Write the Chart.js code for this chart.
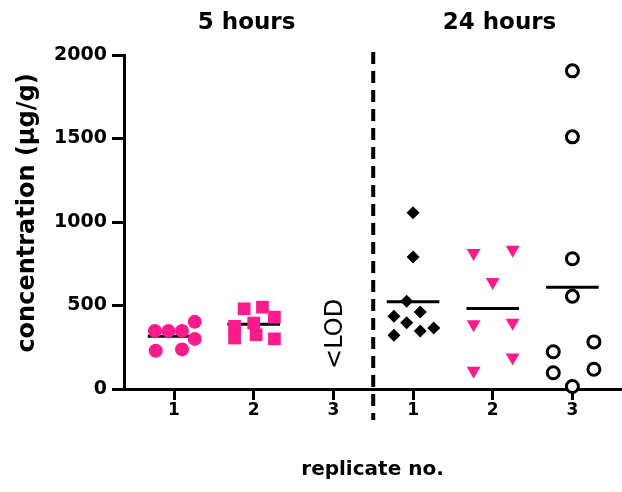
<!DOCTYPE html>
<html>
<head>
<meta charset="utf-8">
<script src="https://cdn.jsdelivr.net/npm/chart.js@4.4.1/dist/chart.umd.min.js"></script>
<style>
  html, body { margin: 0; padding: 0; background: #fff; }
  #wrap { width: 622px; height: 492px; position: relative; }
</style>
</head>
<body>
<div id="wrap"><canvas id="c" width="622" height="492"></canvas></div>
<script>
// ---------------- data ----------------
const tickPositions = [1, 2, 3, 4, 5, 6];
const tickLabels = ['1', '2', '3', '1', '2', '3'];
const groupTitles = ['5 hours', '24 hours'];
const groupTitlePos = [1.91, 5.085];
const yTitle = 'concentration (µg/g)';
const xTitle = 'replicate no.';
const lodText = '<LOD';
const lodPos = 3;          // replicate 3 at 5 hours: below limit of detection
const lodLabelValue = 330;
const dividerPos = 3.5;

// 5 hours – replicate 1 (pink filled circles)
const h5r1Values = [348, 348, 348, 402, 300, 229, 237];
const h5r1Jitter = [-0.24, -0.07, 0.10, 0.26, 0.26, -0.23, 0.10];
// 5 hours – replicate 2 (pink squares)
const h5r2Values = [480, 490, 430, 375, 395, 305, 325, 300];
const h5r2Jitter = [-0.12, 0.11, 0.26, -0.24, 0.00, -0.24, 0.03, 0.26];
// 24 hours – replicate 1 (black diamonds)
const h24r1Values = [1055, 790, 525, 436, 461, 396, 322, 348, 366];
const h24r1Jitter = [0.00, 0.00, -0.08, -0.24, 0.09, -0.08, -0.24, 0.09, 0.26];
// 24 hours – replicate 2 (pink down triangles)
const h24r2Values = [814, 834, 641, 388, 396, 189, 109];
const h24r2Jitter = [-0.24, 0.25, 0.00, -0.24, 0.25, 0.25, -0.24];
// 24 hours – replicate 3 (black open circles)
const h24r3Values = [1905, 1510, 780, 555, 223, 282, 97, 118, 15];
const h24r3Jitter = [0.00, 0.00, 0.00, 0.00, -0.24, 0.27, -0.24, 0.27, 0.00];

// ---------------- build chart ----------------
const PINK = '#ff1a8c';
const FONT = "'DejaVu Sans', 'Liberation Sans', Arial, sans-serif";

function pts(pos, values, jitter) {
  return values.map((v, i) => ({ x: pos + jitter[i], y: v }));
}
function mean(a) { return a.reduce((s, v) => s + v, 0) / a.length; }
function meanLine(pos, values) {
  const m = mean(values);
  return {
    type: 'line', data: [{ x: pos - 0.33, y: m }, { x: pos + 0.33, y: m }],
    borderColor: '#000', borderWidth: 3, pointRadius: 0, order: 1, clip: false
  };
}

const groups = [
  { pos: tickPositions[0], values: h5r1Values, jitter: h5r1Jitter, style: 'circle', radius: 7, bg: PINK, border: PINK, bw: 0 },
  { pos: tickPositions[1], values: h5r2Values, jitter: h5r2Jitter, style: 'rect', radius: 9, bg: PINK, border: PINK, bw: 0 },
  { pos: tickPositions[3], values: h24r1Values, jitter: h24r1Jitter, style: 'rectRot', radius: 6.5, bg: '#000', border: '#000', bw: 0 },
  { pos: tickPositions[4], values: h24r2Values, jitter: h24r2Jitter, style: 'triangle', radius: 8, bg: PINK, border: PINK, bw: 0, rot: 180 },
  { pos: tickPositions[5], values: h24r3Values, jitter: h24r3Jitter, style: 'circle', radius: 6, bg: '#fff', border: '#000', bw: 3 }
];

const datasets = [];
groups.forEach(g => {
  datasets.push({
    type: 'scatter', data: pts(g.pos, g.values, g.jitter),
    pointStyle: g.style, pointRadius: g.radius, pointRotation: g.rot || 0,
    pointBackgroundColor: g.bg, pointBorderColor: g.border, pointBorderWidth: g.bw,
    order: 0, clip: false
  });
});
groups.forEach(g => datasets.push(meanLine(g.pos, g.values)));

const decorations = {
  id: 'decorations',
  afterDatasetsDraw(chart) {
    const { ctx, scales: { x, y } } = chart;
    ctx.save();
    // dashed divider
    const dx = x.getPixelForValue(dividerPos);
    ctx.strokeStyle = '#000';
    ctx.lineWidth = 4;
    ctx.setLineDash([12, 7]);
    ctx.beginPath();
    ctx.moveTo(dx, 52);
    ctx.lineTo(dx, 420);
    ctx.stroke();
    ctx.setLineDash([]);
    // group titles
    ctx.fillStyle = '#000';
    ctx.font = "bold 23px " + FONT;
    ctx.textAlign = 'center';
    ctx.textBaseline = 'middle';
    groupTitles.forEach((t, i) => ctx.fillText(t, x.getPixelForValue(groupTitlePos[i]), 23));
    // y axis title
    ctx.save();
    ctx.translate(28, 213);
    ctx.rotate(-Math.PI / 2);
    ctx.font = "bold 24px " + FONT;
    ctx.fillText(yTitle, 0, 0);
    ctx.restore();
    // <LOD label
    ctx.translate(x.getPixelForValue(lodPos) + 2, y.getPixelForValue(lodLabelValue));
    ctx.rotate(-Math.PI / 2);
    ctx.font = "24px " + FONT;
    ctx.fillText(lodText, 0, 0);
    ctx.restore();
  }
};

new Chart(document.getElementById('c'), {
  data: { datasets },
  plugins: [decorations],
  options: {
    responsive: false,
    animation: false,
    layout: { autoPadding: false, padding: { left: 0, right: 1, top: 55, bottom: 0 } },
    plugins: { legend: { display: false }, tooltip: { enabled: false } },
    scales: {
      x: {
        type: 'linear', min: 0.372, max: 6.61,
        afterBuildTicks: s => { s.ticks = tickPositions.map(v => ({ value: v })); },
        afterFit: s => { s.height = 103; s.paddingLeft = 0; s.paddingRight = 0; },
        ticks: {
          callback: v => tickLabels[tickPositions.indexOf(v)],
          color: '#000', font: { family: FONT, weight: 'bold', size: 17 }, padding: 0,
          maxRotation: 0, autoSkip: false
        },
        grid: { drawOnChartArea: false, drawTicks: true, tickLength: 11, tickWidth: 3, tickColor: '#000' },
        border: { display: true, color: '#000', width: 3 },
        title: { display: true, text: xTitle, color: '#000', font: { family: FONT, weight: 'bold', size: 20 }, padding: { bottom: 10 } }
      },
      y: {
        type: 'linear', min: 0, max: 2000,
        afterFit: s => { s.width = 124; s.paddingTop = 0; s.paddingBottom = 0; },
        ticks: { stepSize: 500, callback: v => String(v), color: '#000', font: { family: FONT, weight: 'bold', size: 19 }, padding: 5 },
        grid: { drawOnChartArea: false, drawTicks: true, tickLength: 12, tickWidth: 3, tickColor: '#000' },
        border: { display: true, color: '#000', width: 3 }
      }
    }
  }
});
</script>
</body>
</html>
